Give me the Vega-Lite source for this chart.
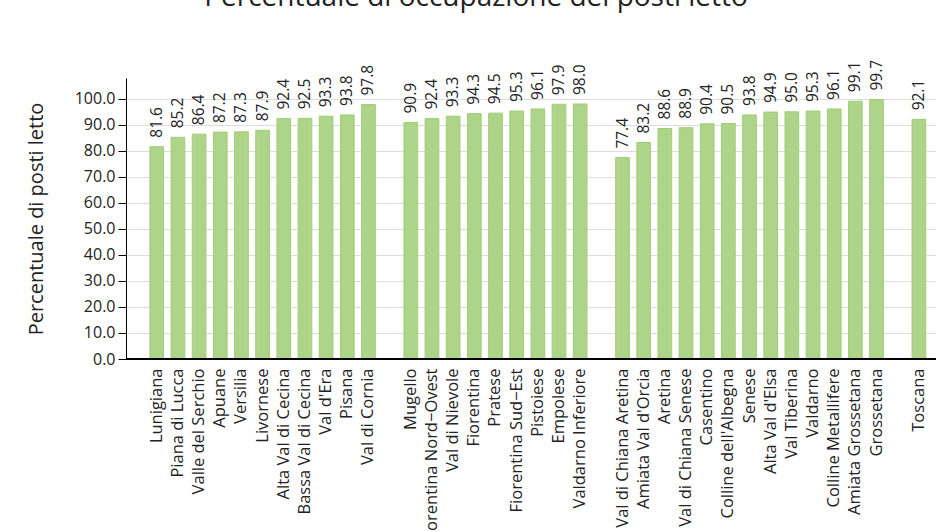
{
  "$schema": "https://vega.github.io/schema/vega-lite/v6.json",
  "width": 810,
  "height": 281,
  "autosize": {"type": "none"},
  "padding": {"left": 126, "top": 78, "right": 0, "bottom": 173},
  "background": "white",
  "title": {
    "text": "Percentuale di occupazione dei posti letto",
    "fontSize": 28,
    "font": "Open Sans",
    "fontWeight": "normal",
    "color": "#222222",
    "anchor": "middle",
    "frame": "group",
    "dx": -55,
    "offset": 48
  },
  "config": {
    "view": {"stroke": null},
    "font": "Open Sans"
  },
  "data": {
    "values": [
      {"zona": "Lunigiana", "valore": 81.6},
      {"zona": "Piana di Lucca", "valore": 85.2},
      {"zona": "Valle del Serchio", "valore": 86.4},
      {"zona": "Apuane", "valore": 87.2},
      {"zona": "Versilia", "valore": 87.3},
      {"zona": "Livornese", "valore": 87.9},
      {"zona": "Alta Val di Cecina", "valore": 92.4},
      {"zona": "Bassa Val di Cecina", "valore": 92.5},
      {"zona": "Val d'Era", "valore": 93.3},
      {"zona": "Pisana", "valore": 93.8},
      {"zona": "Val di Cornia", "valore": 97.8},
      {"zona": "Mugello", "valore": 90.9},
      {"zona": "Fiorentina Nord−Ovest", "valore": 92.4},
      {"zona": "Val di Nievole", "valore": 93.3},
      {"zona": "Fiorentina", "valore": 94.3},
      {"zona": "Pratese", "valore": 94.5},
      {"zona": "Fiorentina Sud−Est", "valore": 95.3},
      {"zona": "Pistoiese", "valore": 96.1},
      {"zona": "Empolese", "valore": 97.9},
      {"zona": "Valdarno Inferiore", "valore": 98.0},
      {"zona": "Val di Chiana Aretina", "valore": 77.4},
      {"zona": "Amiata Val d'Orcia", "valore": 83.2},
      {"zona": "Aretina", "valore": 88.6},
      {"zona": "Val di Chiana Senese", "valore": 88.9},
      {"zona": "Casentino", "valore": 90.4},
      {"zona": "Colline dell'Albegna", "valore": 90.5},
      {"zona": "Senese", "valore": 93.8},
      {"zona": "Alta Val d'Elsa", "valore": 94.9},
      {"zona": "Val Tiberina", "valore": 95.0},
      {"zona": "Valdarno", "valore": 95.3},
      {"zona": "Colline Metallifere", "valore": 96.1},
      {"zona": "Amiata Grossetana", "valore": 99.1},
      {"zona": "Grossetana", "valore": 99.7},
      {"zona": "Toscana", "valore": 92.1}
    ]
  },
  "encoding": {
    "x": {
      "field": "zona",
      "type": "nominal",
      "sort": null,
      "scale": {
        "domain": ["Lunigiana", "Piana di Lucca", "Valle del Serchio", "Apuane", "Versilia", "Livornese", "Alta Val di Cecina", "Bassa Val di Cecina", "Val d'Era", "Pisana", "Val di Cornia", " ", "Mugello", "Fiorentina Nord−Ovest", "Val di Nievole", "Fiorentina", "Pratese", "Fiorentina Sud−Est", "Pistoiese", "Empolese", "Valdarno Inferiore", "  ", "Val di Chiana Aretina", "Amiata Val d'Orcia", "Aretina", "Val di Chiana Senese", "Casentino", "Colline dell'Albegna", "Senese", "Alta Val d'Elsa", "Val Tiberina", "Valdarno", "Colline Metallifere", "Amiata Grossetana", "Grossetana", "   ", "Toscana"],
        "paddingInner": 0.353,
        "paddingOuter": 0.807,
        "align": 0.7
      },
      "axis": {
        "title": null,
        "labelAngle": -90,
        "labelFontSize": 16.5,
        "labelColor": "#222222",
        "labelPadding": 9,
        "ticks": false,
        "domain": false,
        "grid": false,
        "labelOverlap": false
      }
    },
    "y": {
      "field": "valore",
      "type": "quantitative",
      "scale": {"domain": [0, 108], "nice": false},
      "axis": {
        "title": "Percentuale di posti letto",
        "titleFontSize": 20,
        "titleFontWeight": "normal",
        "titleColor": "#222222",
        "titlePadding": 28,
        "values": [0, 10, 20, 30, 40, 50, 60, 70, 80, 90, 100],
        "format": ".1f",
        "labelFontSize": 16,
        "labelColor": "#222222",
        "labelPadding": 3,
        "tickSize": 8,
        "tickColor": "#000000",
        "domainColor": "#000000",
        "gridColor": "#dddddd"
      }
    }
  },
  "layer": [
    {
      "mark": {"type": "bar", "fill": "#add489", "stroke": "#9fce76", "strokeWidth": 1}
    },
    {
      "mark": {"type": "text", "angle": 270, "align": "left", "baseline": "middle", "dx": 9, "fontSize": 15.5, "color": "#222222"},
      "encoding": {
        "text": {"field": "valore", "type": "quantitative", "format": ".1f"}
      }
    },
    {
      "mark": {"type": "rule", "color": "#000000", "strokeWidth": 1},
      "encoding": {"y": {"datum": 0}, "x": null}
    }
  ]
}
